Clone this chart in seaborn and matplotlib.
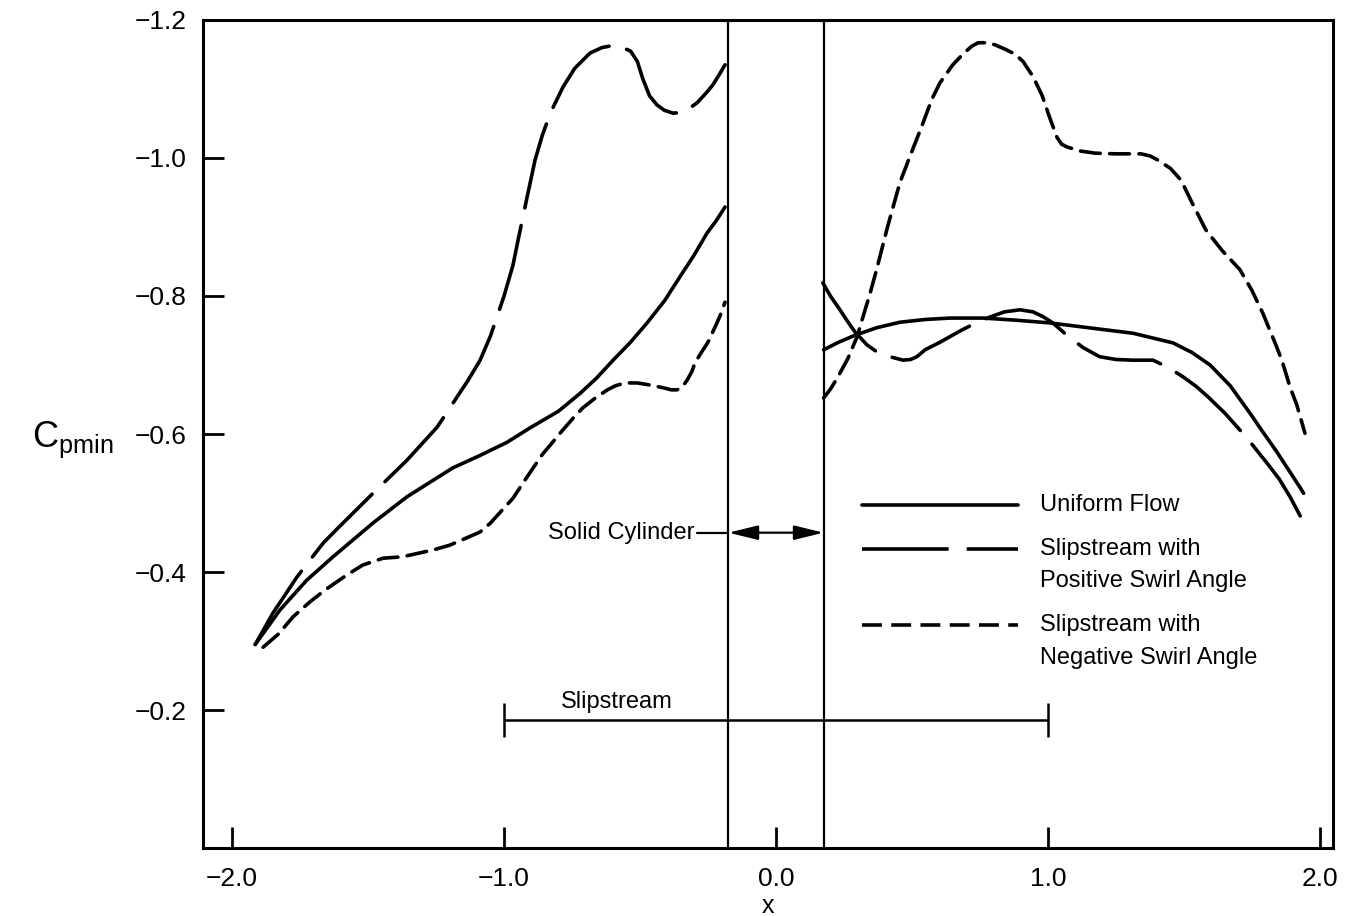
import matplotlib
matplotlib.use("Agg")
import matplotlib.pyplot as plt
import seaborn as sns

# Minimum pressure coefficient along a wing span crossing a propeller slipstream
# x: spanwise station, cylinder occupies |x| < CYL_HALF

# Uniform flow, left and right of the cylinder
uni_left_x = [-1.915, -1.824, -1.726, -1.629, -1.482, -1.357, -1.188, -1.088, -0.989,
              -0.904, -0.80, -0.72, -0.66, -0.599, -0.535, -0.474, -0.41, -0.353,
              -0.30, -0.254, -0.22, -0.1875]
uni_left_y = [-0.295, -0.345, -0.388, -0.422, -0.471, -0.509, -0.551, -0.569, -0.588,
              -0.609, -0.633, -0.659, -0.681, -0.707, -0.733, -0.761, -0.793, -0.828,
              -0.860, -0.891, -0.909, -0.929]
uni_right_x = [0.175, 0.23, 0.29, 0.37, 0.456, 0.55, 0.64, 0.761, 0.88, 1.007, 1.129,
               1.313, 1.46, 1.53, 1.596, 1.67, 1.743, 1.79, 1.84, 1.926, 1.94]
uni_right_y = [-0.722, -0.733, -0.743, -0.754, -0.762, -0.766, -0.768, -0.768, -0.765,
               -0.761, -0.755, -0.746, -0.732, -0.718, -0.700, -0.670, -0.630, -0.603,
               -0.575, -0.523, -0.514]

# Slipstream with positive swirl angle
pos_left_x = [-1.915, -1.849, -1.761, -1.665, -1.61, -1.482, -1.357, -1.246, -1.132,
              -1.088, -1.05, -1.0, -0.967, -0.95, -0.916, -0.886, -0.86, -0.83, -0.783,
              -0.74, -0.684, -0.64, -0.60, -0.565, -0.535, -0.51, -0.49, -0.465, -0.438,
              -0.41, -0.379, -0.34, -0.29, -0.255, -0.232, -0.21, -0.1875]
pos_left_y = [-0.295, -0.341, -0.393, -0.442, -0.464, -0.514, -0.562, -0.610, -0.678,
              -0.707, -0.742, -0.800, -0.845, -0.878, -0.942, -0.997, -1.032, -1.065,
              -1.103, -1.130, -1.152, -1.160, -1.163, -1.160, -1.155, -1.140, -1.115,
              -1.090, -1.077, -1.069, -1.065, -1.066, -1.080, -1.095, -1.106, -1.120,
              -1.135]
pos_right_x = [0.172, 0.20, 0.235, 0.26, 0.29, 0.335, 0.371, 0.419, 0.467, 0.495, 0.518,
               0.548, 0.603, 0.68, 0.73, 0.776, 0.84, 0.897, 0.945, 0.982, 1.018, 1.07,
               1.13, 1.19, 1.25, 1.31, 1.386, 1.44, 1.496, 1.545, 1.588, 1.651, 1.73,
               1.805, 1.85, 1.89, 1.94]
pos_right_y = [-0.819, -0.800, -0.780, -0.765, -0.748, -0.729, -0.719, -0.712, -0.707,
               -0.708, -0.712, -0.722, -0.733, -0.750, -0.760, -0.768, -0.777, -0.780,
               -0.777, -0.770, -0.761, -0.743, -0.725, -0.712, -0.708, -0.707, -0.707,
               -0.697, -0.683, -0.669, -0.654, -0.630, -0.595, -0.558, -0.535, -0.509,
               -0.472]

# Slipstream with negative swirl angle
neg_left_x = [-1.886, -1.83, -1.776, -1.713, -1.658, -1.577, -1.52, -1.445, -1.375, -1.26,
              -1.199, -1.088, -1.05, -0.967, -0.915, -0.86, -0.83, -0.79, -0.746, -0.71,
              -0.665, -0.62, -0.59, -0.555, -0.51, -0.463, -0.415, -0.385, -0.364, -0.345,
              -0.327, -0.31, -0.298, -0.275, -0.25, -0.224, -0.205, -0.1875]
neg_left_y = [-0.291, -0.310, -0.335, -0.357, -0.374, -0.396, -0.410, -0.420, -0.422, -0.432,
              -0.439, -0.458, -0.471, -0.507, -0.538, -0.570, -0.584, -0.603, -0.623, -0.638,
              -0.652, -0.664, -0.670, -0.674, -0.674, -0.671, -0.667, -0.664, -0.664, -0.668,
              -0.678, -0.690, -0.703, -0.718, -0.733, -0.755, -0.772, -0.791]
neg_right_x = [0.175, 0.20, 0.228, 0.265, 0.298, 0.32, 0.346, 0.371, 0.41, 0.456, 0.504,
               0.533, 0.574, 0.603, 0.65, 0.691, 0.72, 0.743, 0.775, 0.805, 0.846, 0.88,
               0.908, 0.945, 0.978, 1.005, 1.033, 1.05, 1.07, 1.12, 1.173, 1.25, 1.342,
               1.375, 1.404, 1.45, 1.489, 1.53, 1.58, 1.64, 1.706, 1.75, 1.79, 1.835, 1.86,
               1.89, 1.915, 1.945]
neg_right_y = [-0.652, -0.665, -0.683, -0.710, -0.741, -0.770, -0.804, -0.840, -0.900,
               -0.965, -1.014, -1.043, -1.086, -1.109, -1.135, -1.152, -1.162, -1.167,
               -1.167, -1.164, -1.157, -1.150, -1.140, -1.118, -1.091, -1.060, -1.030,
               -1.020, -1.016, -1.010, -1.007, -1.006, -1.006, -1.003, -0.997, -0.985,
               -0.968, -0.935, -0.896, -0.866, -0.838, -0.808, -0.775, -0.732, -0.707,
               -0.668, -0.642, -0.601]

x_ticks = [-2.0, -1.0, 0.0, 1.0, 2.0]
x_tick_labels = ["\u22122.0", "\u22121.0", "0.0", "1.0", "2.0"]
y_ticks = [-1.2, -1.0, -0.8, -0.6, -0.4, -0.2]
y_tick_labels = ["\u22121.2", "\u22121.0", "\u22120.8", "\u22120.6", "\u22120.4", "\u22120.2"]

series_labels = ["Uniform Flow",
                 "Slipstream with\nPositive Swirl Angle",
                 "Slipstream with\nNegative Swirl Angle"]

CYL_HALF = 0.175          # half width of the solid cylinder
SLIP_HALF = 1.0           # half width of the slipstream
SLIP_LEVEL = -0.186       # height of the slipstream bar

sns.set_theme(style="ticks")
plt.rcParams["font.family"] = ["Liberation Sans", "DejaVu Sans"]
plt.rcParams["mathtext.fontset"] = "custom"
plt.rcParams["mathtext.rm"] = "Liberation Sans"
plt.rcParams["mathtext.it"] = "Liberation Sans"
plt.rcParams["text.color"] = "black"
plt.rcParams["axes.labelcolor"] = "black"

LW = 2.6
styles = ["-", (0, (24, 5)), (0, (5.5, 2.6))]

fig = plt.figure(figsize=(13.47, 9.16), dpi=100)
ax = fig.add_axes([0.1507, 0.0742, 0.8389, 0.9040])

curves = [(uni_left_x, uni_left_y, uni_right_x, uni_right_y),
          (pos_left_x, pos_left_y, pos_right_x, pos_right_y),
          (neg_left_x, neg_left_y, neg_right_x, neg_right_y)]
for (lx, ly, rx, ry), ls in zip(curves, styles):
    for xs, ys in ((lx, ly), (rx, ry)):
        sns.lineplot(x=xs, y=ys, ax=ax, color="black", linewidth=LW, linestyle=ls,
                     sort=False, estimator=None, solid_capstyle="round",
                     solid_joinstyle="round", dash_capstyle="round",
                     dash_joinstyle="round")

# cylinder walls
for xc in (-CYL_HALF, CYL_HALF):
    ax.axvline(xc, color="black", lw=1.6)

# solid cylinder marker
cyl_y = -0.457
ax.annotate("", xy=(-CYL_HALF, cyl_y), xytext=(CYL_HALF, cyl_y),
            arrowprops=dict(arrowstyle="<|-|>,head_length=0.9,head_width=0.22",
                            color="black", lw=1.6, shrinkA=0, shrinkB=0,
                            mutation_scale=20))
ax.plot([-0.29, -CYL_HALF], [cyl_y, cyl_y], color="black", lw=1.6)
ax.text(-0.30, cyl_y, "Solid Cylinder", ha="right", va="center", fontsize=17)

# slipstream extent
ax.errorbar([0.0], [SLIP_LEVEL], xerr=[SLIP_HALF], color="black", lw=1.8,
            capsize=12, capthick=1.8, fmt="none")
ax.text(-0.585, -0.212, "Slipstream", ha="center", va="center", fontsize=17)

# key
key_x0, key_x1, key_tx = 0.316, 0.89, 0.97
key_rows = [(-0.497, None), (-0.433, -0.387), (-0.323, -0.2754)]
for (y1, y2), ls, lab in zip(key_rows, styles, series_labels):
    ax.plot([key_x0, key_x1], [y1, y1], color="black", lw=LW, linestyle=ls,
            dash_capstyle="butt")
    lines = lab.split("\n")
    ax.text(key_tx, y1, lines[0], ha="left", va="center", fontsize=17)
    if y2 is not None:
        ax.text(key_tx, y2, lines[1], ha="left", va="center", fontsize=17)

ax.set_xlim(-2.107, 2.048)
ax.set_ylim(0.0, -1.2)
ax.set_xticks(x_ticks)
ax.set_xticklabels(x_tick_labels)
ax.set_yticks(y_ticks)
ax.set_yticklabels(y_tick_labels)
ax.tick_params(direction="in", length=15, width=2, labelsize=19, colors="black")
ax.tick_params(axis="y", pad=12)
ax.tick_params(axis="x", pad=14)
for sp in ax.spines.values():
    sp.set_visible(True)
    sp.set_linewidth(2.2)
    sp.set_color("black")

ax.set_xlabel("x", fontsize=18, labelpad=2)
ax.set_ylabel(r"$\mathrm{C}_{\mathrm{pmin}}$", fontsize=26, rotation=0,
              va="center", ha="center")
ax.yaxis.set_label_coords(-0.115, 0.493)

fig.savefig("out.png", dpi=100, facecolor="white")
